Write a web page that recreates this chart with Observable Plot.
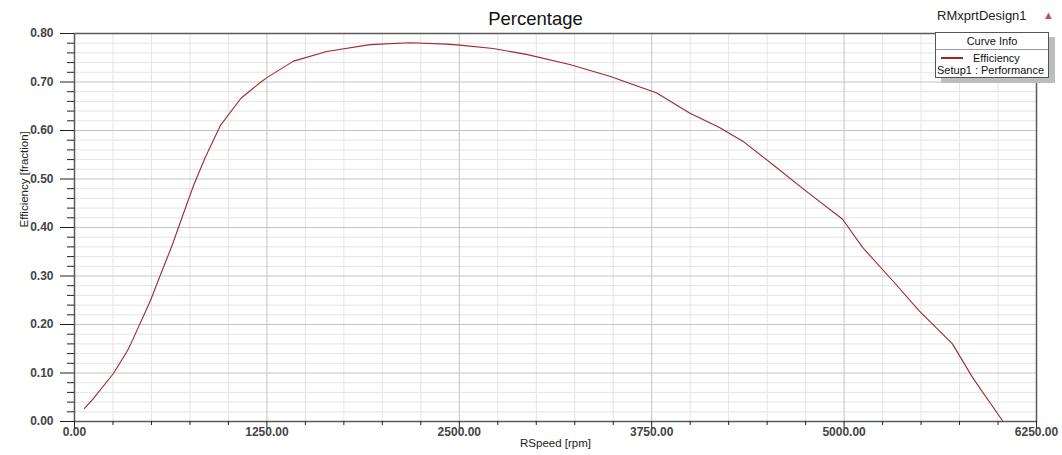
<!DOCTYPE html>
<html>
<head>
<meta charset="utf-8">
<script src="https://cdn.jsdelivr.net/npm/d3@7"></script>
<script src="https://cdn.jsdelivr.net/npm/@observablehq/plot@0.6"></script>
<style>
  html, body { margin: 0; padding: 0; background: #fff; }
  #wrap { position: relative; width: 1062px; height: 455px; font-family: "Liberation Sans", Arial, sans-serif; }
  #design { position: absolute; left: 937px; top: 8px; font-size: 13px; color: #222; white-space: nowrap; }
  #tri { position: absolute; left: 1043px; top: 9px; font-size: 11px; color: #c0504d; }
  #legend { position: absolute; left: 935px; top: 32px; width: 112px; height: 44px; background: #fff;
            border: 1px solid #555; box-shadow: 6px 5px 0 #bdbdbd; font-size: 11px; color: #111; }
  #legend .hdr { text-align: center; height: 16px; line-height: 16px; border-bottom: 1px solid #999; }
  #legend .row1 { position: relative; height: 14px; line-height: 14px; }
  #legend .sw { position: absolute; left: 5px; top: 7px; width: 22px; height: 0; border-top: 2px solid #a02828; }
  #legend .lab { position: absolute; left: 37px; top: 1px; }
  #legend .row2 { line-height: 12px; padding-left: 1px; white-space: nowrap; }
</style>
</head>
<body>
<div id="wrap">
  <div id="chart"></div>
  <div id="design">RMxprtDesign1</div>
  <div id="tri">▲</div>
  <div id="legend">
    <div class="hdr">Curve Info</div>
    <div class="row1"><span class="sw"></span><span class="lab">Efficiency</span></div>
    <div class="row2">Setup1 : Performance</div>
  </div>
</div>
<script>
// Speed (rpm) and efficiency (fraction)
const speed = [65, 117, 253, 344, 363, 493, 558, 634, 698, 774, 850, 947, 1083, 1207, 1250, 1423, 1639, 1920, 2180, 2418, 2504, 2720, 2936, 3217, 3477, 3715, 3780, 3996, 4190, 4342, 4536, 4753, 4990, 5120, 5336, 5488, 5704, 5834, 6028];
const efficiency = [0.027, 0.045, 0.099, 0.146, 0.158, 0.249, 0.302, 0.363, 0.420, 0.487, 0.545, 0.610, 0.667, 0.699, 0.709, 0.743, 0.763, 0.777, 0.781, 0.778, 0.776, 0.769, 0.757, 0.736, 0.712, 0.685, 0.678, 0.636, 0.606, 0.578, 0.530, 0.475, 0.417, 0.359, 0.283, 0.228, 0.160, 0.091, 0.002];

const xMajor = [0, 1250, 2500, 3750, 5000, 6250];
const xMinor = [250, 500, 750, 1000, 1500, 1750, 2000, 2250, 2750, 3000, 3250, 3500, 4000, 4250, 4500, 4750, 5250, 5500, 5750, 6000];
const yMajor = [0, 0.1, 0.2, 0.3, 0.4, 0.5, 0.6, 0.7, 0.8];
const yMinor = [0.02, 0.04, 0.06, 0.08, 0.12, 0.14, 0.16, 0.18, 0.22, 0.24, 0.26, 0.28, 0.32, 0.34, 0.36, 0.38, 0.42, 0.44, 0.46, 0.48, 0.52, 0.54, 0.56, 0.58, 0.62, 0.64, 0.66, 0.68, 0.72, 0.74, 0.76, 0.78];

const titleText = "Percentage";
const xLabel = "RSpeed [rpm]";
const yLabel = "Efficiency [fraction]";

const data = speed.map((s, i) => ({speed: s, eff: efficiency[i]}));

const chart = Plot.plot({
  width: 1062,
  height: 455,
  marginLeft: 74,
  marginRight: 26,
  marginTop: 33,
  marginBottom: 34,
  style: {fontFamily: '"Liberation Sans", Arial, sans-serif', fontSize: "12px", color: "#333", background: "#fff"},
  x: {domain: [0, 6250]},
  y: {domain: [0, 0.8]},
  marks: [
    Plot.ruleX(xMinor, {stroke: "#e4e4e4", strokeWidth: 1}),
    Plot.ruleY(yMinor, {stroke: "#e4e4e4", strokeWidth: 1}),
    Plot.ruleX(xMajor, {stroke: "#c4c4c4", strokeWidth: 1}),
    Plot.ruleY(yMajor, {stroke: "#c4c4c4", strokeWidth: 1}),
    Plot.frame({stroke: "#5a5a5a", strokeWidth: 1.5}),
    Plot.line(data, {x: "speed", y: "eff", stroke: "#9e2a2a", strokeWidth: 1.1}),
    Plot.axisY(yMajor, {tickSize: 14, tickPadding: 7, tickFormat: d => d.toFixed(2), label: null, stroke: "#222", fontWeight: "bold", fill: "#444"}),
    Plot.axisY(yMinor, {tickSize: 7, tickFormat: () => "", label: null, stroke: "#222"}),
    Plot.axisX(xMajor, {tickSize: 7, tickPadding: -1, tickFormat: d => d.toFixed(2), label: null, stroke: "#222", fontWeight: "bold", fill: "#444"}),
    Plot.axisX(xMinor, {tickSize: 4, tickFormat: () => "", label: null, stroke: "#222"}),
    Plot.text([xLabel], {text: d => d, frameAnchor: "bottom", dy: 25, fontSize: 11.5, fill: "#222"}),
    Plot.text([yLabel], {text: d => d, frameAnchor: "left", dx: -50, rotate: -90, fontSize: 11.5, fill: "#222"}),
    Plot.text([titleText], {text: d => d, frameAnchor: "top", dx: -20, dy: -9, lineAnchor: "bottom", fontSize: 18.5, fill: "#111"})
  ]
});
document.getElementById("chart").appendChild(chart);
</script>
</body>
</html>
